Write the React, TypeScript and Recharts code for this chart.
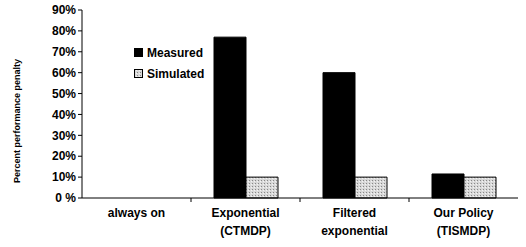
import { Bar, BarChart, XAxis, YAxis } from "recharts"

const categories = ["always on|", "Exponential|(CTMDP)", "Filtered|exponential", "Our Policy|(TISMDP)"]
const measured = [0, 77, 60, 11.5]
const simulated = [0, 10, 10, 10]
const yTicks = [0, 10, 20, 30, 40, 50, 60, 70, 80, 90]

const data = categories.map((name, i) => ({
  name,
  measured: measured[i],
  simulated: simulated[i],
}))

const font = "'Liberation Sans', Arial, sans-serif"

function CategoryTick(props: any) {
  const { x, y, payload, index } = props
  const lines = String(payload.value).split("|")
  const band = 109
  return (
    <g>
      {index > 0 && <line x1={x - band / 2} x2={x - band / 2} y1={y - 8} y2={y - 4} stroke="#000" />}
      {lines.map((l: string, i: number) => (
        <text key={i} x={x} y={y + 11 + i * 18} textAnchor="middle" fontFamily={font} fontWeight="bold" fontSize={12} fill="#000">
          {l}
        </text>
      ))}
    </g>
  )
}

function YLabel(props: any) {
  const { viewBox } = props
  const cx = 17
  const cy = viewBox.y + viewBox.height / 2 + 17
  return (
    <text x={cx} y={cy} transform={`rotate(-90, ${cx}, ${cy})`} textAnchor="middle" dominantBaseline="central" fontFamily={font} fontWeight="bold" fontSize={9} fill="#000">
      Percent performance penalty
    </text>
  )
}

function LegendBox() {
  const items = [
    { label: "Measured", fill: "#000" },
    { label: "Simulated", fill: "url(#dotsL)" },
  ]
  return (
    <div style={{ position: "absolute", left: 134, top: 42, fontFamily: font, fontWeight: "bold", fontSize: 12 }}>
      {items.map((it) => (
        <div key={it.label} style={{ display: "flex", alignItems: "center", height: 21 }}>
          <svg width={9} height={9} style={{ marginRight: 4 }}>
            <defs>
              <pattern id="dotsL" width="3" height="3" patternUnits="userSpaceOnUse">
                <rect width="3" height="3" fill="#d8d8d8" />
                <rect width="1" height="1" fill="#888" />
                <rect x="2" y="1" width="1" height="1" fill="#f4f4f4" />
              </pattern>
            </defs>
            <rect x={0.5} y={0.5} width={8} height={8} fill={it.fill} stroke="#000" />
          </svg>
          {it.label}
        </div>
      ))}
    </div>
  )
}

export default function App() {
  return (
    <div style={{ position: "absolute", left: 0, top: 0, width: 526, height: 247, background: "#fff" }}>
      <BarChart width={526} height={247} data={data} margin={{ top: 10, right: 8, bottom: 0, left: 0 }} barCategoryGap={23} barGap={0}>
        <defs>
          <pattern id="dots" width="3" height="3" patternUnits="userSpaceOnUse">
            <rect width="3" height="3" fill="#d8d8d8" />
            <rect width="1" height="1" fill="#888" />
            <rect x="2" y="1" width="1" height="1" fill="#f4f4f4" />
          </pattern>
        </defs>
        <XAxis dataKey="name" stroke="#000" tickLine={false} height={49} tick={<CategoryTick />} interval={0} />
        <YAxis
          stroke="#000"
          width={82}
          domain={[0, 90]}
          ticks={yTicks}
          tickSize={4}
          tickFormatter={(v) => (v === 0 ? "0 %" : `${v}%`)}
          tick={{ fontFamily: font, fontWeight: "bold", fontSize: 12, fill: "#000" }}
          label={<YLabel />}
        />
        <Bar dataKey="measured" fill="#000" stroke="#000" isAnimationActive={false} />
        <Bar dataKey="simulated" fill="url(#dots)" stroke="#000" isAnimationActive={false} />
      </BarChart>
      <LegendBox />
    </div>
  )
}
